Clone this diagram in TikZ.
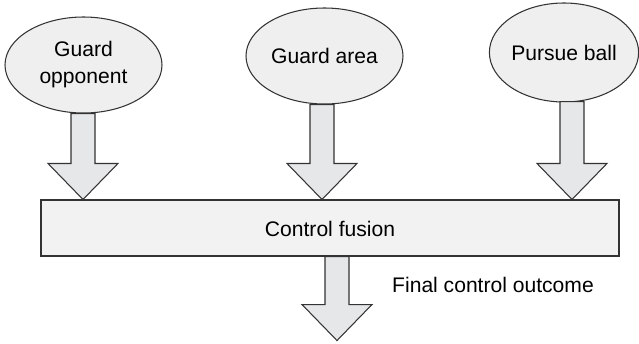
\documentclass[tikz,border=0pt]{standalone}
\usepackage{fontspec}
\setmainfont{Liberation Sans}
\usepackage{xcolor}
\usetikzlibrary{calc,shapes.geometric,positioning}

\definecolor{linecol}{HTML}{333333}
\definecolor{ellipsefill}{HTML}{EFEFEF}
\definecolor{boxfill}{HTML}{F2F2F2}
\definecolor{arrowfill}{HTML}{E6E7E8}

\tikzset{
  goal/.style={ellipse,draw=linecol,fill=ellipsefill,line width=0.6pt,
    minimum width=3.14cm,minimum height=1.92cm,inner sep=0pt,align=center},
  fusionbox/.style={rectangle,draw=linecol,fill=boxfill,line width=0.6pt,
    minimum width=11.56cm,minimum height=1.12cm},
  fatarrow/.style={draw=linecol,fill=arrowfill,line width=0.6pt,line join=miter},
}

% block arrow from #1 (top of shaft) to #2 (tip)
\newcommand{\blockarrow}[2]{%
  \draw[fatarrow] ($(#1)+(-0.24,0)$) -- ($(#2)+(-0.24,0.72)$) -- ($(#2)+(-0.7,0.72)$)
    -- (#2) -- ($(#2)+(0.7,0.72)$) -- ($(#2)+(0.24,0.72)$) -- ($(#1)+(0.24,0)$) -- cycle;}

\begin{document}
\begin{tikzpicture}[font=\fontsize{12}{15.4}\selectfont]
\useasboundingbox (0,0) rectangle (12.78,6.86);
\node[goal] (gopp) at (1.67,5.56) {Guard\\opponent};
\node[goal] (garea) at (6.49,5.74) {Guard area};
\node[goal,minimum width=2.96cm,minimum height=1.98cm] (pball) at (11.28,5.81) {Pursue ball};
\node[fusionbox] (fus) at (6.6,2.3) {};
\node at (6.6,2.28) {Control fusion};

\coordinate (a1s) at ($(gopp.south)+(-0.01,0)$);
\coordinate (a2s) at ($(garea.south)+(-0.05,0)$);
\coordinate (a3s) at ($(pball.south)+(0.16,0.02)$);
\blockarrow{a1s}{a1s |- fus.north}
\blockarrow{a2s}{a2s |- fus.north}
\blockarrow{a3s}{a3s |- fus.north}

\coordinate (outs) at ($(fus.south)+(0.14,0)$);
\coordinate (oute) at ($(outs)+(0,-1.68)$);
\blockarrow{outs}{oute}
\node[anchor=west] (outlbl) at (7.72,1.16) {Final control outcome};
\end{tikzpicture}
\end{document}
